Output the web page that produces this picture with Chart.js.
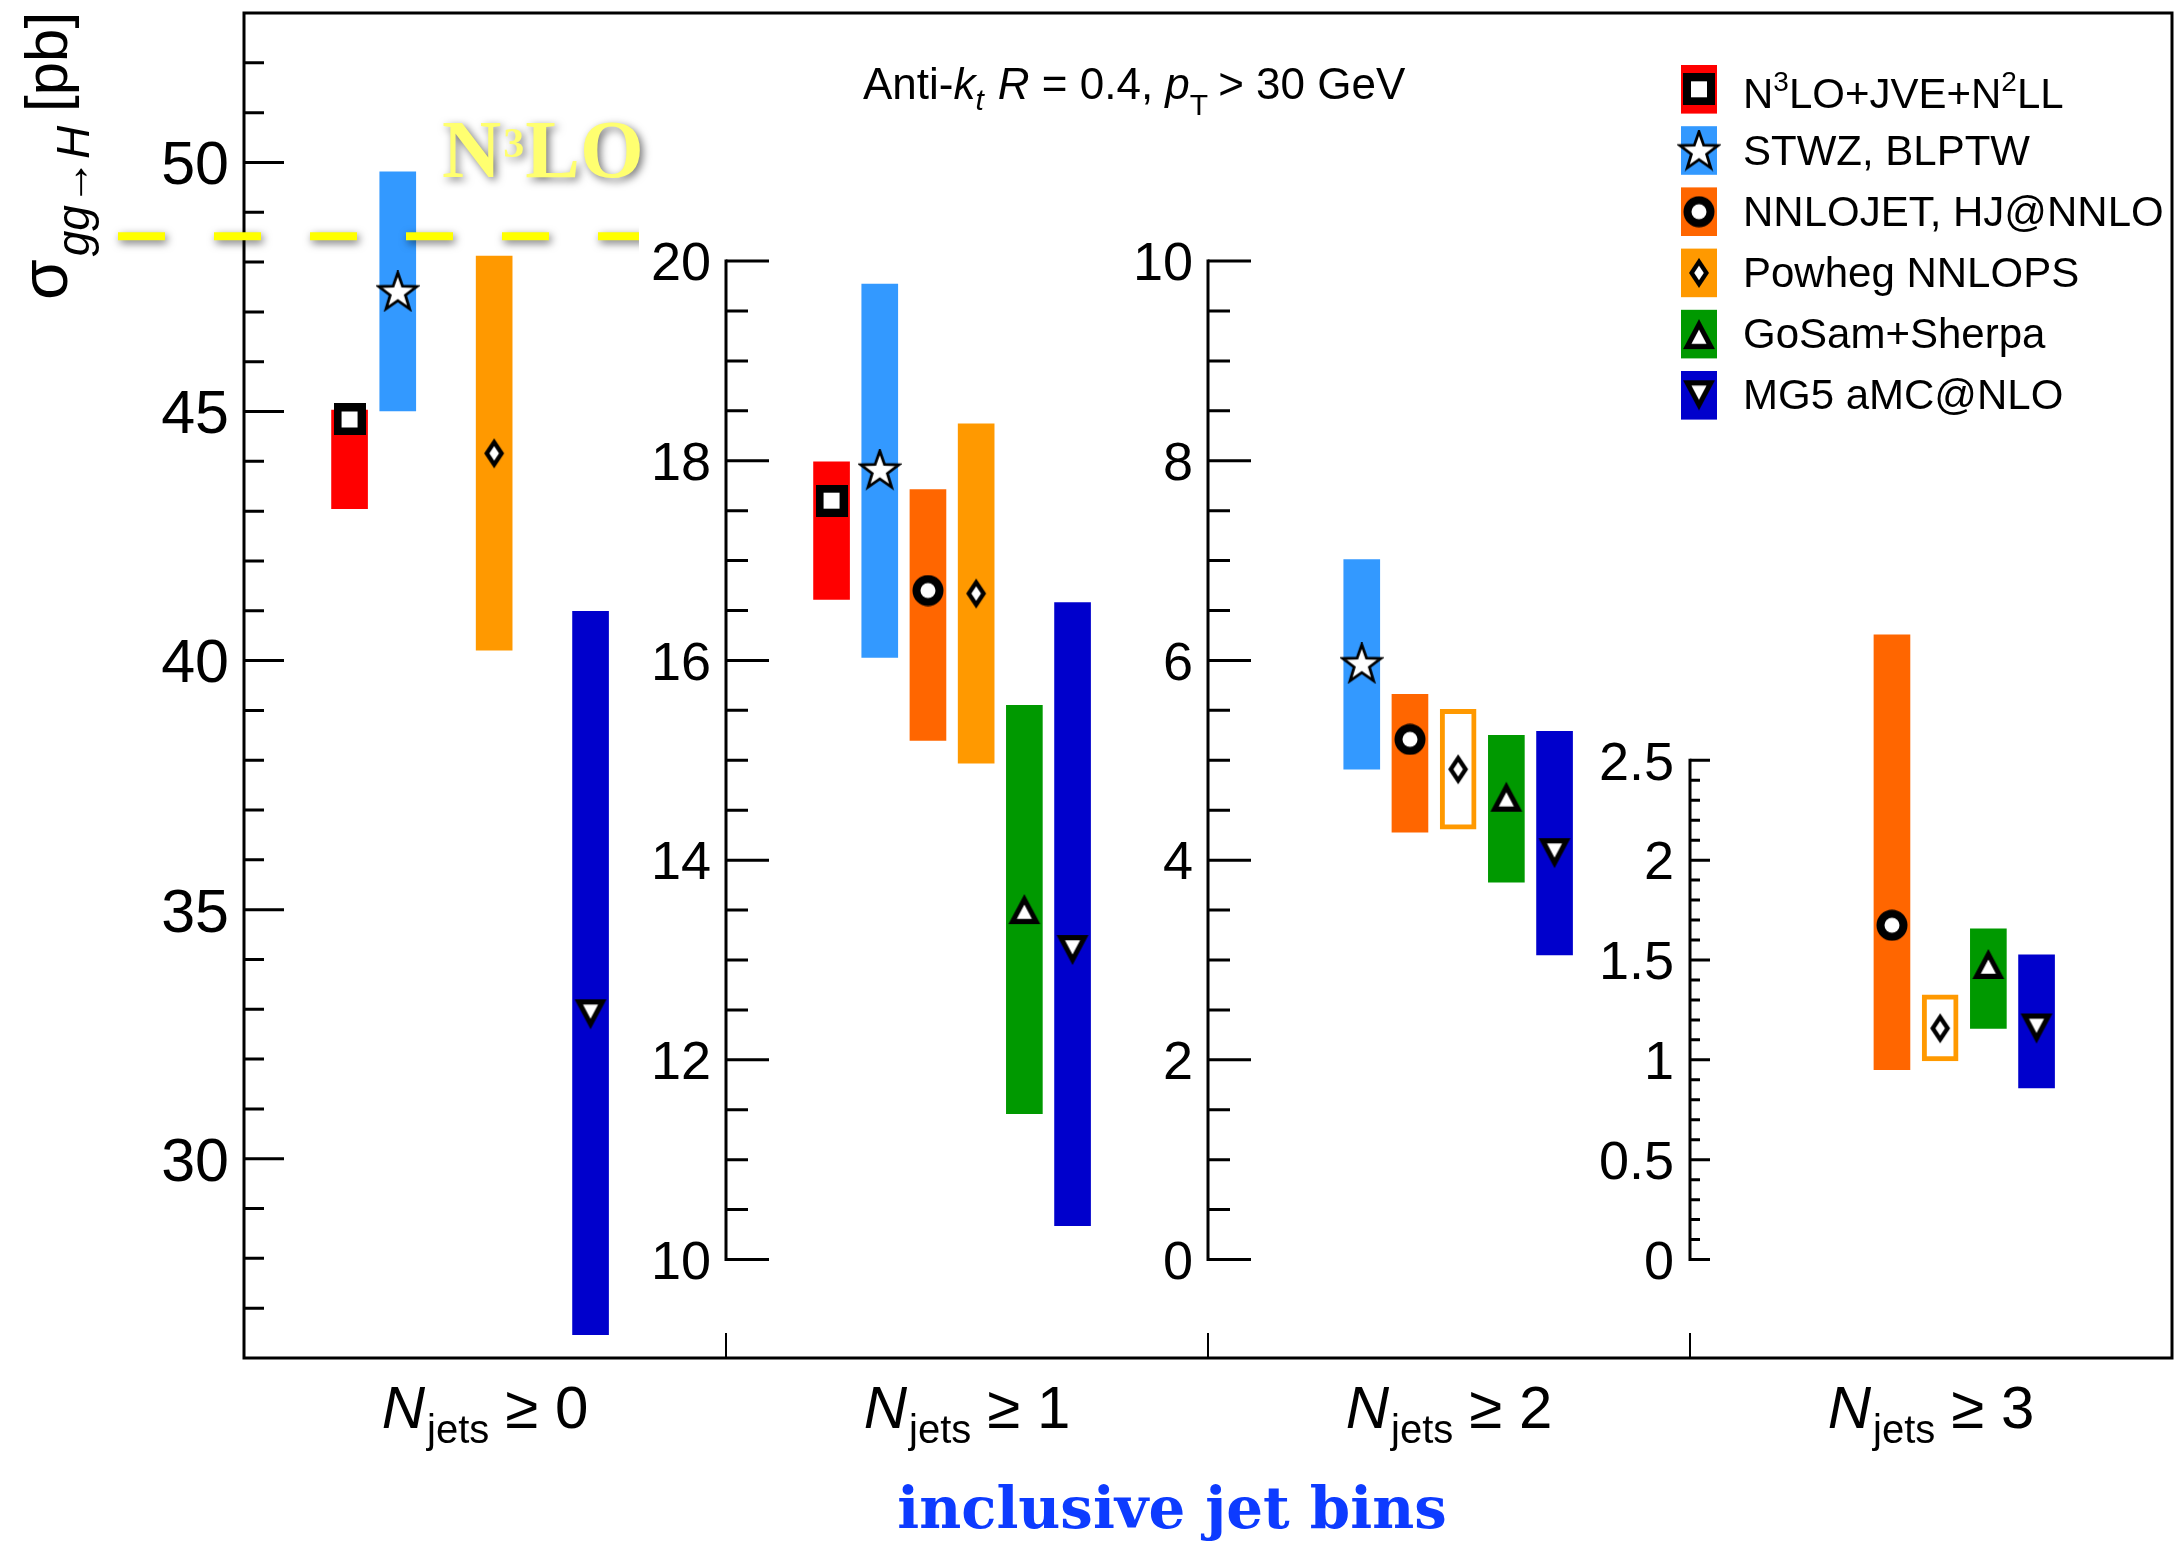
<!DOCTYPE html>
<html><head><meta charset="utf-8">
<script src="https://cdn.jsdelivr.net/npm/chart.js@4.4.1/dist/chart.umd.min.js"></script>
<style>html,body{margin:0;padding:0;background:#fff;overflow:hidden;}#wrap{position:relative;width:2178px;height:1541px;}canvas{display:block;}</style>
</head><body><div id="wrap"><canvas id="c" width="2178" height="1541"></canvas></div>
<script>
// ---------------- data ----------------
const panelLabels = ['0', '1', '2', '3'];            // N_jets >= n
const generators = ['N3LO+JVE+N2LL', 'STWZ, BLPTW', 'NNLOJET, HJ@NNLO', 'Powheg NNLOPS', 'GoSam+Sherpa', 'MG5 aMC@NLO'];

const n3loJveCentral = [44.84, 17.60, null, null];
const n3loJveLow     = [43.05, 16.61, null, null];
const n3loJveHigh    = [45.03, 17.99, null, null];

const stwzCentral = [47.41, 17.91, 5.97, null];
const stwzLow     = [45.01, 16.03, 4.91, null];
const stwzHigh    = [49.81, 19.77, 7.01, null];

const nnlojetCentral = [null, 16.70, 5.21, 1.674];
const nnlojetLow     = [null, 15.20, 4.28, 0.951];
const nnlojetHigh    = [null, 17.71, 5.66, 3.128];

const powhegCentral = [44.16, 16.67, 4.91, 1.158];
const powhegLow     = [40.21, 14.97, 4.31, 0.995];
const powhegHigh    = [48.12, 18.37, 5.51, 1.325];

const gosamCentral = [null, 13.51, 4.635, 1.48];
const gosamLow     = [null, 11.46, 3.78, 1.157];
const gosamHigh    = [null, 15.55, 5.25, 1.656];

const mg5Central = [32.90, 13.10, 4.07, 1.157];
const mg5Low     = [26.47, 10.34, 3.05, 0.859];
const mg5High    = [40.99, 16.58, 5.29, 1.526];

const n3loInclusive = 48.52;

const y0TickLabels = [30, 35, 40, 45, 50];
const y1TickLabels = [10, 12, 14, 16, 18, 20];
const y2TickLabels = [0, 2, 4, 6, 8, 10];
const y3TickLabels = [0, 0.5, 1, 1.5, 2, 2.5];

// ---------------- styles ----------------
const seriesColors = ['#ff0000', '#3399ff', '#ff6600', '#ff9900', '#009900', '#0000cc'];
const SANS = '"Liberation Sans", Arial, sans-serif';
const SERIF = '"Liberation Serif", "Times New Roman", serif';

const central = [n3loJveCentral, stwzCentral, nnlojetCentral, powhegCentral, gosamCentral, mg5Central];
const lows = [n3loJveLow, stwzLow, nnlojetLow, powhegLow, gosamLow, mg5Low];
const highs = [n3loJveHigh, stwzHigh, nnlojetHigh, powhegHigh, gosamHigh, mg5High];

function mk(w, h, draw) { const c = document.createElement('canvas'); c.width = w; c.height = h; draw(c.getContext('2d'), w, h); return c; }
function poly(x, pts) { x.beginPath(); pts.forEach((p, i) => i ? x.lineTo(p[0], p[1]) : x.moveTo(p[0], p[1])); x.closePath(); }
function scaled(pts, cx, cy, s) { return pts.map(p => [cx + (p[0] - cx) * s, cy + (p[1] - cy) * s]); }

const mSquare = mk(32, 32, x => { x.fillStyle = '#000'; x.fillRect(0, 0, 32, 32); x.fillStyle = '#fff'; x.fillRect(8, 8, 16, 16); });
const mCircle = mk(32, 32, x => { x.fillStyle = '#000'; x.beginPath(); x.arc(16, 16, 15.5, 0, 2 * Math.PI); x.fill(); x.fillStyle = '#fff'; x.beginPath(); x.arc(16, 16, 7.5, 0, 2 * Math.PI); x.fill(); });
const mStar = mk(44, 42, x => {
  const R = 20, r = 8, cx = 22, cy = 22.2; const pts = [];
  for (let i = 0; i < 10; i++) { const a = -Math.PI / 2 + i * Math.PI / 5; const rr = i % 2 ? r : R; pts.push([cx + rr * Math.cos(a), cy + rr * Math.sin(a)]); }
  poly(x, pts); x.fillStyle = '#fff'; x.fill(); x.lineWidth = 2.8; x.lineJoin = 'miter'; x.strokeStyle = '#000'; x.stroke();
});
const mDiamond = mk(22, 32, x => {
  const o = [[11, 1], [21, 16], [11, 31], [1, 16]]; poly(x, o); x.fillStyle = '#000'; x.fill();
  poly(x, scaled(o, 11, 16, 0.48)); x.fillStyle = '#fff'; x.fill();
});
const mTriUp = mk(34, 32, x => {
  const o = [[17, 1], [33, 31], [1, 31]]; poly(x, o); x.fillStyle = '#000'; x.fill();
  poly(x, scaled(o, 17, 21, 0.47)); x.fillStyle = '#fff'; x.fill();
});
const mTriDown = mk(34, 32, x => {
  const o = [[1, 1], [33, 1], [17, 31]]; poly(x, o); x.fillStyle = '#000'; x.fill();
  poly(x, scaled(o, 17, 11, 0.47)); x.fillStyle = '#fff'; x.fill();
});
const markers = [mSquare, mStar, mCircle, mDiamond, mTriUp, mTriDown];

const SLOT0 = 2.19, PANEL = 10;
const isOutlined = raw => raw && raw.g === 3 && raw.p >= 2;

const datasets = [];
for (let p = 0; p < 4; p++) {
  const barData = [], ptData = [];
  for (let g = 0; g < 6; g++) {
    if (central[g][p] == null) continue;
    const x = p * PANEL + SLOT0 + g;
    barData.push({ x, y: [lows[g][p], highs[g][p]], g, p });
    ptData.push({ x, y: central[g][p], g, p });
  }
  datasets.push({
    type: 'bar', label: 'band ' + p, data: barData, yAxisID: 'y' + p, grouped: false,
    barThickness: 36, order: 2, borderSkipped: false,
    backgroundColor: c => c.raw ? (isOutlined(c.raw) ? '#ffffff' : seriesColors[c.raw.g]) : '#000',
    borderColor: c => c.raw ? seriesColors[c.raw.g] : '#000',
    borderWidth: c => isOutlined(c.raw) ? 5 : 0
  });
  datasets.push({
    type: 'scatter', label: 'central ' + p, data: ptData, yAxisID: 'y' + p, order: 1,
    pointStyle: c => c.raw ? markers[c.raw.g] : 'circle', pointRadius: 16, showLine: false
  });
}

function rich(ctx, parts, x, y, align) {
  let w = 0;
  for (const p of parts) { ctx.font = p[1]; w += ctx.measureText(p[0]).width + (p[3] || 0); }
  let cx = align === 'center' ? x - w / 2 : x;
  ctx.textAlign = 'left'; ctx.textBaseline = 'alphabetic';
  for (const p of parts) { ctx.font = p[1]; ctx.fillText(p[0], cx, y + (p[2] || 0)); cx += ctx.measureText(p[0]).width + (p[3] || 0); }
  return w;
}

function drawTicks(ctx, xPix, scale, from, to, majorStep, minorStep, majorLen, minorLen, drawLine) {
  const n = Math.round((to - from) / minorStep);
  ctx.lineWidth = 3; ctx.strokeStyle = '#000'; ctx.lineCap = 'butt';
  ctx.beginPath();
  for (let i = 0; i <= n; i++) {
    const v = from + i * minorStep;
    const major = Math.abs(v / majorStep - Math.round(v / majorStep)) < 1e-6;
    const y = scale.getPixelForValue(v);
    ctx.moveTo(xPix, y); ctx.lineTo(xPix + (major ? majorLen : minorLen), y);
  }
  ctx.stroke();
  if (drawLine) {
    ctx.beginPath();
    ctx.moveTo(xPix, scale.getPixelForValue(to) - 1.5); ctx.lineTo(xPix, scale.getPixelForValue(from) + 1.5);
    ctx.stroke();
  }
}
function drawLabels(ctx, xRight, scale, labels, size) {
  ctx.fillStyle = '#000'; ctx.font = size + 'px ' + SANS; ctx.textAlign = 'right'; ctx.textBaseline = 'alphabetic';
  for (const v of labels) ctx.fillText(String(v), xRight, scale.getPixelForValue(v) + 0.358 * size);
}

const decor = {
  id: 'decor',
  beforeDraw(chart) { const c = chart.ctx; c.save(); c.fillStyle = '#fff'; c.fillRect(0, 0, chart.width, chart.height); c.restore(); },
  afterDatasetsDraw(chart) {
    const ctx = chart.ctx, a = chart.chartArea, X = chart.scales.x;
    const Y = [chart.scales.y0, chart.scales.y1, chart.scales.y2, chart.scales.y3];
    ctx.save();
    // frame
    ctx.strokeStyle = '#000'; ctx.lineWidth = 3;
    ctx.strokeRect(a.left, a.top, a.right - a.left, a.bottom - a.top);
    // panel 1 axis (left frame)
    drawTicks(ctx, a.left, Y[0], 27, 52, 5, 1, 40, 20, false);
    drawLabels(ctx, a.left - 15, Y[0], y0TickLabels, 61);
    // inner axes
    const x1 = X.getPixelForValue(PANEL), x2 = X.getPixelForValue(2 * PANEL), x3 = X.getPixelForValue(3 * PANEL);
    drawTicks(ctx, x1, Y[1], 10, 20, 2, 0.5, 43, 22, true);
    drawLabels(ctx, x1 - 15, Y[1], y1TickLabels, 54);
    drawTicks(ctx, x2, Y[2], 0, 10, 2, 0.5, 43, 22, true);
    drawLabels(ctx, x2 - 15, Y[2], y2TickLabels, 54);
    drawTicks(ctx, x3, Y[3], 0, 2.5, 0.5, 0.1, 20, 10, true);
    drawLabels(ctx, x3 - 16, Y[3], y3TickLabels, 54);
    // bottom panel dividers
    ctx.lineWidth = 2; ctx.beginPath();
    for (const xp of [x1, x2, x3]) { ctx.moveTo(xp, a.bottom); ctx.lineTo(xp, a.bottom - 25); }
    ctx.stroke();

    // legend
    for (let g = 0; g < 6; g++) {
      const top = 65 + g * 61.2, cy = top + 24.3;
      ctx.fillStyle = seriesColors[g]; ctx.fillRect(1681, top, 36, 48.6);
      const m = markers[g]; ctx.drawImage(m, 1699 - m.width / 2, cy - m.height / 2);
      ctx.fillStyle = '#000';
      const f = '42px ' + SANS, fs = '28px ' + SANS;
      if (g === 0) rich(ctx, [['N', f], ['3', fs, -17], ['LO+JVE+N', f], ['2', fs, -17], ['LL', f]], 1743, cy + 19, 'left');
      else rich(ctx, [[generators[g], f]], 1743, cy + 14, 'left');
    }

    // jet algorithm note
    ctx.fillStyle = '#000';
    const nf = '44px ' + SANS, nfi = 'italic 44px ' + SANS;
    rich(ctx, [['Anti-', nf], ['k', nfi], ['t', 'italic 30px ' + SANS, 11, 14], ['R', nfi], [' = 0.4, ', nf], ['p', nfi],
               ['T', '30px ' + SANS, 16, 10], ['> 30 GeV', nf]], 863, 99, 'left');

    // x labels
    for (let p = 0; p < 4; p++) {
      const cx = X.getPixelForValue(p * PANEL + PANEL / 2);
      rich(ctx, [['N', 'italic 60px ' + SANS, 0, 2], ['jets', '40px ' + SANS, 15, 16], ['\u2265 ' + panelLabels[p], '60px ' + SANS]], cx, 1428, 'center');
    }
    // x title
    ctx.fillStyle = '#0d3bff';
    let fsz = 60; ctx.font = 'bold ' + fsz + 'px "DejaVu Serif", serif';
    fsz = fsz * 550 / ctx.measureText('inclusive jet bins').width;
    rich(ctx, [['inclusive jet bins', 'bold ' + fsz.toFixed(1) + 'px "DejaVu Serif", serif']], 1172, 1528, 'center');

    // y title
    ctx.save(); ctx.translate(67, 300); ctx.rotate(-Math.PI / 2); ctx.fillStyle = '#000';
    rich(ctx, [['\u03c3', '66px ' + SANS, 0, 3], ['gg\u2192H', 'italic 46px ' + SANS, 22]], 0, 0, 'left');
    rich(ctx, [['[pb]', '60px ' + SANS]], 188, 0, 'left');
    ctx.restore();

    // N3LO reference line
    const yl = Y[0].getPixelForValue(n3loInclusive);
    ctx.save();
    ctx.beginPath(); ctx.rect(0, 0, 639, chart.height); ctx.clip();
    ctx.shadowColor = 'rgba(0,0,0,0.55)'; ctx.shadowBlur = 9; ctx.shadowOffsetX = 2; ctx.shadowOffsetY = 3;
    ctx.strokeStyle = '#ffff00'; ctx.lineWidth = 8; ctx.setLineDash([47, 49]);
    ctx.beginPath(); ctx.moveTo(118, yl); ctx.lineTo(700, yl); ctx.stroke();
    ctx.restore();
    ctx.save();
    ctx.shadowColor = 'rgba(0,0,0,0.55)'; ctx.shadowBlur = 8; ctx.shadowOffsetX = 3; ctx.shadowOffsetY = 3;
    ctx.fillStyle = '#ffff70';
    rich(ctx, [['N', 'bold 82px ' + SERIF, 0, 2], ['3', 'bold 42px ' + SERIF, -20, 1], ['LO', 'bold 82px ' + SERIF]], 442, 177, 'left');
    ctx.restore();
    ctx.restore();
  }
};

new Chart(document.getElementById('c'), {
  type: 'bar',
  data: { datasets },
  options: {
    responsive: false, animation: false, devicePixelRatio: 1,
    layout: { autoPadding: false, padding: { left: 244, right: 6, top: 13, bottom: 183 } },
    plugins: { legend: { display: false }, tooltip: { enabled: false } },
    events: [],
    scales: {
      x: { type: 'linear', min: 0, max: 40, offset: false, display: false },
      y0: { type: 'linear', position: 'left', min: 26, max: 53, display: false },
      y1: { type: 'linear', position: 'left', min: 9.014, max: 22.484, display: false },
      y2: { type: 'linear', position: 'left', min: -0.986, max: 12.484, display: false },
      y3: { type: 'linear', position: 'left', min: -0.493, max: 6.242, display: false }
    }
  },
  plugins: [decor]
});
</script></body></html>
